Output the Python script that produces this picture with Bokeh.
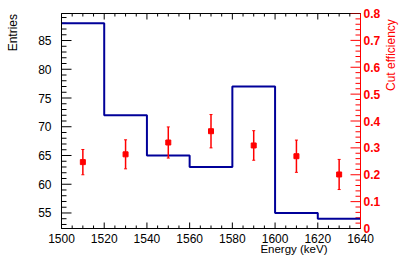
import math
from bokeh.plotting import figure
from bokeh.models import Range1d, LinearAxis, FixedTicker, Title
from bokeh.embed import file_html
from bokeh.resources import INLINE

# ---- data ----
bin_edges = [1500, 1520, 1540, 1560, 1580, 1600, 1620, 1640]
entries = [88, 72, 65, 63, 77, 55, 54]
eff_energy = [1510, 1530, 1550, 1570, 1590, 1610, 1630]
eff_values = [0.247, 0.276, 0.320, 0.362, 0.309, 0.269, 0.201]
eff_errors = [0.047, 0.054, 0.058, 0.062, 0.055, 0.060, 0.056]

x_ticks = [1500, 1520, 1540, 1560, 1580, 1600, 1620, 1640]
y_ticks = [55, 60, 65, 70, 75, 80, 85]
eff_ticks = [0.0, 0.1, 0.2, 0.3, 0.4, 0.5, 0.6, 0.7, 0.8]

X_MIN, X_MAX = 1500, 1640
Y_MIN, Y_MAX = 52.3, 89.7
E_MIN, E_MAX = 0.0, 0.8

FONT = "Liberation Sans"
BLUE = "#000099"
RED = "#ff0000"
NBSP = "\u00a0"

W, H = 407, 261
BL, BR, BT, BB = 61, 42, 13, 33

p = figure(width=W, height=H, output_backend="svg", toolbar_location=None,
           x_range=Range1d(X_MIN, X_MAX), y_range=Range1d(Y_MIN, Y_MAX),
           x_axis_type=None, y_axis_type=None,
           min_border_left=BL, min_border_right=BR, min_border_top=BT, min_border_bottom=BB)
p.outline_line_color = "black"
p.outline_line_width = 1
p.background_fill_color = "white"
p.border_fill_color = "white"
p.extra_y_ranges = {"eff": Range1d(E_MIN, E_MAX)}


def style(ax, color, ticks, bold=False, standoff=5):
    ax.ticker = FixedTicker(ticks=ticks)
    ax.axis_line_color = color
    ax.major_tick_line_color = None
    ax.minor_tick_line_color = None
    ax.major_tick_in = 0
    ax.major_tick_out = 0
    ax.minor_tick_in = 0
    ax.minor_tick_out = 0
    ax.major_label_text_font = FONT
    ax.major_label_text_font_size = "12px"
    ax.major_label_text_color = color
    ax.major_label_text_font_style = "bold" if bold else "normal"
    ax.major_label_standoff = standoff


def label_axis(text, color, lstandoff, y_range_name=None):
    kw = {"y_range_name": y_range_name} if y_range_name else {}
    ax = LinearAxis(**kw)
    style(ax, color, [], standoff=0)
    ax.axis_line_color = None
    ax.axis_label = text
    ax.axis_label_text_font = FONT
    ax.axis_label_text_font_size = "12px"
    ax.axis_label_text_font_style = "normal"
    ax.axis_label_text_color = color
    ax.axis_label_standoff = lstandoff
    return ax


bottom = LinearAxis()
style(bottom, "black", x_ticks, standoff=5)
p.add_layout(bottom, "below")

xtitle = Title(text="Energy (keV)", align="right", offset=33, vertical_align="top",
               text_font=FONT, text_font_size="11.5px", text_font_style="normal",
               text_color="black")
try:
    xtitle.standoff = -6
except Exception:
    xtitle.standoff = 0
p.add_layout(xtitle, "below")

left = LinearAxis()
style(left, "black", y_ticks, standoff=10)
p.add_layout(left, "left")

# "Entries" pushed to the top end of the axis (ROOT style) with leading no-break spaces
left_lab = label_axis(NBSP * 53 + "Entries", "black", 16)
p.add_layout(left_lab, "left")

right = LinearAxis(y_range_name="eff")
style(right, RED, eff_ticks, bold=True, standoff=3)
right.major_label_overrides = {0: "0"}
p.add_layout(right, "right")

right_lab = label_axis(NBSP * 9 + "Cut efficiency", RED, 7, "eff")
right_lab.axis_label_orientation = math.pi / 2
p.add_layout(right_lab, "right")

# inward tick marks (ROOT style)
x_minor = [t + k * (x_ticks[1] - x_ticks[0]) / 4 for t in x_ticks[:-1] for k in (1, 2, 3)]
y_minor = [v for v in range(math.ceil(Y_MIN), math.floor(Y_MAX) + 1) if v not in y_ticks]
e_minor = [round(eff_ticks[i] + k * 0.02, 3) for i in range(len(eff_ticks) - 1) for k in (1, 2, 3, 4)]

for ys, ang in ((Y_MIN, math.pi / 2), (Y_MAX, -math.pi / 2)):
    p.ray(x=x_ticks, y=[ys] * len(x_ticks), length=6, angle=ang, length_units="screen",
          line_color="black", line_width=1)
    p.ray(x=x_minor, y=[ys] * len(x_minor), length=3, angle=ang, length_units="screen",
          line_color="black", line_width=1)
p.ray(x=[X_MIN] * len(y_ticks), y=y_ticks, length=10, angle=0, length_units="screen",
      line_color="black", line_width=1)
p.ray(x=[X_MIN] * len(y_minor), y=y_minor, length=5, angle=0, length_units="screen",
      line_color="black", line_width=1)
p.ray(x=[X_MAX] * len(eff_ticks), y=eff_ticks, length=10, angle=math.pi, length_units="screen",
      line_color=RED, line_width=1, y_range_name="eff")
p.ray(x=[X_MAX] * len(e_minor), y=e_minor, length=5, angle=math.pi, length_units="screen",
      line_color=RED, line_width=1, y_range_name="eff")

# histogram
p.step(x=bin_edges, y=entries + [entries[-1]], mode="after",
       line_color=BLUE, line_width=2)

# efficiency points
lo = [v - e for v, e in zip(eff_values, eff_errors)]
hi = [v + e for v, e in zip(eff_values, eff_errors)]
p.segment(x0=eff_energy, y0=lo, x1=eff_energy, y1=hi, y_range_name="eff",
          line_color=RED, line_width=1.5)
p.scatter(x=eff_energy + eff_energy, y=lo + hi, marker="dash", size=3,
          line_color=RED, line_width=1, y_range_name="eff")
p.scatter(x=eff_energy, y=eff_values, marker="square", size=5,
          fill_color=RED, line_color=RED, y_range_name="eff")

open("out.html", "w").write(file_html(p, INLINE))
